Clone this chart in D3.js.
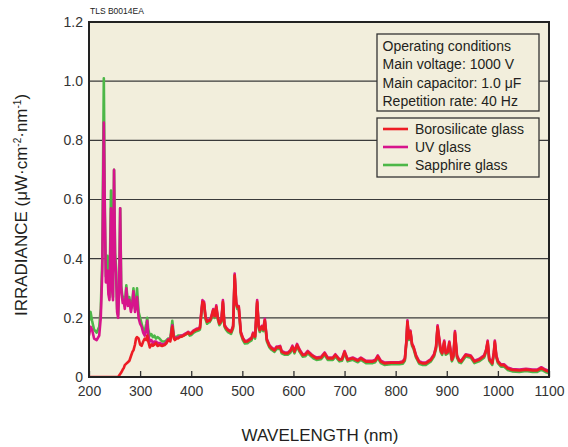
<!DOCTYPE html>
<html><head><meta charset="utf-8">
<script src="https://cdn.jsdelivr.net/npm/d3@7"></script>
<style>body{margin:0;background:#fff}svg{display:block}text{font-family:"Liberation Sans",Arial,Helvetica,sans-serif}</style>
</head><body>
<script>
const wavelength = [200,203,206,210,215,220,223,226,229,231,233,236,238,240,243,245,247,249,251,253,255,257,259,261,263,266,268,270,273,276,279,282,285,287,290,292,294,297,300,303,306,309,312,314,316,319,322,325,328,331,334,338,343,348,352,355,359,363,366,368,371,374,378,381,385,390,394,397,400,405,410,414,417,420,422,425,428,431,434,436,439,443,446,449,452,455,459,462,465,468,472,478,482,485,488,490,493,497,501,505,510,514,518,521,525,529,532,534,538,541,544,548,553,557,563,567,570,574,577,583,589,594,598,602,607,612,618,623,628,635,640,645,654,661,667,677,682,690,695,700,706,716,726,732,742,755,760,765,771,778,791,807,814,818,821,823,826,829,832,835,840,846,852,859,869,875,879,882,885,888,891,895,898,902,905,910,913,916,920,924,928,937,947,954,963,973,977,980,983,989,992,994,997,1000,1006,1012,1019,1028,1042,1055,1068,1077,1085,1093,1100];
const borosilicate = [0,0,0,0,0,0,0,0,0,0,0,0,0,0,0,0,0,0,0,0,0,0,0.005,0.01,0.015,0.025,0.03,0.04,0.045,0.05,0.055,0.07,0.085,0.09,0.11,0.13,0.135,0.13,0.11,0.105,0.12,0.13,0.125,0.14,0.12,0.10,0.11,0.105,0.11,0.115,0.105,0.108,0.105,0.108,0.115,0.125,0.12,0.17,0.13,0.125,0.13,0.13,0.135,0.136,0.14,0.145,0.15,0.145,0.147,0.155,0.16,0.162,0.165,0.22,0.254,0.25,0.2,0.187,0.19,0.19,0.2,0.226,0.205,0.237,0.2,0.18,0.19,0.254,0.175,0.165,0.158,0.152,0.17,0.344,0.25,0.237,0.237,0.15,0.13,0.119,0.12,0.125,0.13,0.147,0.136,0.254,0.17,0.158,0.17,0.16,0.192,0.125,0.105,0.097,0.09,0.1,0.1,0.102,0.085,0.08,0.08,0.088,0.102,0.085,0.108,0.09,0.074,0.075,0.085,0.074,0.068,0.063,0.065,0.08,0.063,0.063,0.074,0.058,0.06,0.085,0.058,0.063,0.055,0.063,0.052,0.052,0.055,0.07,0.052,0.046,0.048,0.048,0.05,0.06,0.12,0.187,0.13,0.153,0.11,0.1,0.07,0.05,0.046,0.046,0.058,0.074,0.1,0.17,0.13,0.09,0.08,0.119,0.08,0.085,0.116,0.058,0.07,0.15,0.07,0.055,0.052,0.074,0.07,0.052,0.058,0.07,0.09,0.119,0.06,0.046,0.08,0.119,0.07,0.052,0.04,0.04,0.029,0.024,0.022,0.025,0.022,0.022,0.03,0.022,0.018];
const uvGlass = [0.14,0.17,0.16,0.13,0.125,0.14,0.20,0.36,0.86,0.55,0.32,0.36,0.28,0.26,0.57,0.30,0.26,0.70,0.40,0.35,0.22,0.20,0.30,0.57,0.30,0.25,0.26,0.23,0.30,0.24,0.26,0.22,0.25,0.29,0.22,0.24,0.27,0.20,0.18,0.17,0.15,0.14,0.16,0.19,0.14,0.12,0.125,0.115,0.12,0.12,0.115,0.115,0.11,0.112,0.12,0.128,0.125,0.175,0.135,0.13,0.133,0.133,0.138,0.14,0.143,0.148,0.153,0.148,0.15,0.158,0.163,0.165,0.168,0.225,0.26,0.255,0.205,0.19,0.193,0.193,0.203,0.23,0.208,0.242,0.203,0.183,0.193,0.26,0.178,0.168,0.16,0.155,0.173,0.35,0.253,0.24,0.24,0.153,0.133,0.122,0.123,0.128,0.133,0.15,0.139,0.26,0.173,0.161,0.173,0.163,0.197,0.128,0.108,0.1,0.093,0.103,0.103,0.105,0.088,0.083,0.083,0.09,0.106,0.088,0.112,0.093,0.077,0.078,0.088,0.077,0.07,0.066,0.068,0.083,0.066,0.066,0.077,0.06,0.062,0.088,0.06,0.066,0.058,0.066,0.055,0.055,0.058,0.073,0.055,0.049,0.05,0.05,0.053,0.063,0.123,0.192,0.133,0.157,0.113,0.103,0.073,0.053,0.049,0.049,0.061,0.077,0.103,0.175,0.133,0.093,0.083,0.123,0.083,0.088,0.12,0.061,0.073,0.155,0.073,0.058,0.055,0.077,0.073,0.055,0.061,0.073,0.093,0.123,0.063,0.049,0.083,0.123,0.073,0.055,0.043,0.043,0.032,0.027,0.025,0.028,0.025,0.025,0.033,0.025,0.021];
const sapphireGlass = [0.19,0.22,0.19,0.16,0.15,0.17,0.23,0.40,1.01,0.56,0.34,0.41,0.30,0.27,0.63,0.31,0.27,0.70,0.42,0.37,0.23,0.21,0.30,0.57,0.31,0.26,0.27,0.24,0.31,0.25,0.27,0.23,0.26,0.30,0.23,0.25,0.30,0.22,0.20,0.18,0.16,0.155,0.18,0.20,0.16,0.14,0.145,0.135,0.14,0.13,0.135,0.13,0.12,0.12,0.125,0.13,0.13,0.19,0.14,0.135,0.135,0.14,0.14,0.14,0.14,0.145,0.148,0.14,0.142,0.15,0.155,0.157,0.16,0.215,0.25,0.245,0.195,0.18,0.185,0.185,0.195,0.22,0.2,0.232,0.195,0.175,0.185,0.25,0.17,0.16,0.152,0.146,0.165,0.34,0.245,0.23,0.23,0.145,0.125,0.113,0.114,0.12,0.124,0.142,0.13,0.25,0.165,0.152,0.165,0.155,0.188,0.12,0.1,0.092,0.085,0.095,0.095,0.097,0.08,0.075,0.075,0.082,0.097,0.08,0.103,0.085,0.069,0.07,0.08,0.069,0.062,0.058,0.06,0.075,0.058,0.058,0.069,0.053,0.055,0.08,0.053,0.058,0.05,0.058,0.047,0.047,0.05,0.065,0.047,0.041,0.043,0.043,0.045,0.055,0.115,0.182,0.125,0.148,0.105,0.095,0.065,0.045,0.041,0.041,0.053,0.069,0.095,0.165,0.125,0.085,0.075,0.114,0.075,0.08,0.111,0.053,0.065,0.145,0.065,0.05,0.047,0.069,0.065,0.047,0.053,0.065,0.085,0.114,0.055,0.041,0.075,0.114,0.065,0.047,0.035,0.035,0.024,0.019,0.017,0.02,0.017,0.017,0.025,0.017,0.013];

const xTicks = [200,300,400,500,600,700,800,900,1000,1100];
const yTicks = [0,0.2,0.4,0.6,0.8,1.0,1.2];
const conditions = ["Operating conditions","Main voltage: 1000 V","Main capacitor: 1.0 \u03bcF","Repetition rate: 40 Hz"];
const seriesNames = ["Borosilicate glass","UV glass","Sapphire glass"];
const seriesColors = ["#ed1c24","#d7148c","#4db748"];

const W = 568, H = 447;
const m = {left:89, right:19, top:22, bottom:70};
const pw = W - m.left - m.right, ph = H - m.top - m.bottom;
const svg = d3.select("body").append("svg").attr("width",W).attr("height",H);
const x = d3.scaleLinear().domain([200,1100]).range([m.left, m.left+pw]);
const y = d3.scaleLinear().domain([0,1.2]).range([m.top+ph, m.top]);
const bg = "#f2eedc";

svg.append("text").attr("x",90).attr("y",14).attr("font-size",8.5).attr("fill","#222").text("TLS B0014EA");

svg.append("rect").attr("x",m.left).attr("y",m.top).attr("width",pw).attr("height",ph).attr("fill",bg);

// gridlines
svg.append("g").selectAll("line").data(yTicks.filter(d=>d>0 && d<1.2)).join("line")
  .attr("x1",m.left).attr("x2",m.left+pw).attr("y1",d=>y(d)).attr("y2",d=>y(d))
  .attr("stroke","#3a3a3a").attr("stroke-width",1.2);

// bottom axis ticks (inward)
const xAxis = d3.axisBottom(x).tickValues(xTicks).tickSize(-6).tickPadding(9).tickFormat(d3.format("d"));
const gx = svg.append("g").attr("transform",`translate(0,${m.top+ph})`).call(xAxis);
gx.select(".domain").remove();
gx.selectAll(".tick line").attr("stroke","#333").attr("stroke-width",1.3);
gx.selectAll(".tick text").attr("font-size",14).attr("fill","#333").attr("font-family","Liberation Sans, Arial, sans-serif");

const yAxis = d3.axisLeft(y).tickValues(yTicks).tickSize(0).tickPadding(6).tickFormat(d=>d===0?"0":d3.format(".1f")(d));
const gy = svg.append("g").attr("transform",`translate(${m.left},0)`).call(yAxis);
gy.select(".domain").remove();
gy.selectAll(".tick text").attr("font-size",14).attr("fill","#333").attr("font-family","Liberation Sans, Arial, sans-serif");

// series
svg.append("clipPath").attr("id","clip").append("rect").attr("x",m.left).attr("y",m.top).attr("width",pw).attr("height",ph);
const line = d3.line().x((d,i)=>x(wavelength[i])).y(d=>y(d)).curve(d3.curveLinear);
const g = svg.append("g").attr("clip-path","url(#clip)");
[[sapphireGlass,seriesColors[2]],[uvGlass,seriesColors[1]],[borosilicate,seriesColors[0]]].forEach(([vals,c])=>{
  g.append("path").datum(vals).attr("d",line).attr("fill","none").attr("stroke",c)
   .attr("stroke-width",2.6).attr("stroke-linejoin","round");
});

// frame
svg.append("rect").attr("x",m.left).attr("y",m.top).attr("width",pw).attr("height",ph)
  .attr("fill","none").attr("stroke","#222").attr("stroke-width",2);

// conditions box
const bx = 377, bw = 162;
svg.append("rect").attr("x",bx).attr("y",34).attr("width",bw).attr("height",77)
  .attr("fill",bg).attr("stroke","#333").attr("stroke-width",1.3);
svg.append("g").selectAll("text").data(conditions).join("text")
  .attr("x",bx+5.5).attr("y",(d,i)=>51+i*18.3).attr("font-size",14).attr("fill","#231f20").text(d=>d);

// legend box
svg.append("rect").attr("x",bx).attr("y",118).attr("width",bw).attr("height",59)
  .attr("fill",bg).attr("stroke","#333").attr("stroke-width",1.3);
const lg = svg.append("g").selectAll("g").data(seriesNames).join("g")
  .attr("transform",(d,i)=>`translate(0,${129+i*18})`);
lg.append("line").attr("x1",383).attr("x2",408).attr("stroke",(d,i)=>seriesColors[i]).attr("stroke-width",2.6);
lg.append("text").attr("x",415).attr("y",5).attr("font-size",14).attr("fill","#231f20").text(d=>d);

// axis titles
svg.append("text").attr("x",320).attr("y",441).attr("text-anchor","middle")
  .attr("font-size",17).attr("fill","#231f20").text("WAVELENGTH (nm)");
const yt = svg.append("text").attr("transform","translate(27,205) rotate(-90)").attr("text-anchor","middle")
  .attr("font-size",17).attr("fill","#231f20");
yt.append("tspan").text("IRRADIANCE (\u03bcW\u00b7cm");
yt.append("tspan").attr("font-size",10).attr("dy",-6).text("-2");
yt.append("tspan").attr("dy",6).text("\u00b7nm");
yt.append("tspan").attr("font-size",10).attr("dy",-6).text("-1");
yt.append("tspan").attr("dy",6).text(")");
</script>
</body></html>
